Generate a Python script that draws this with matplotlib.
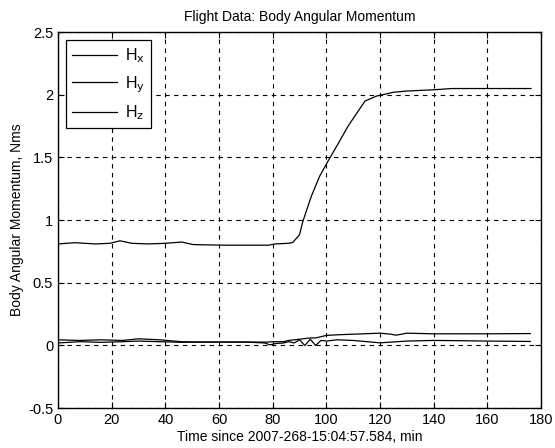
import numpy as np
import matplotlib.pyplot as plt

plt.rcParams['font.family'] = ['Liberation Sans', 'DejaVu Sans']

# body angular momentum
t_hx = [0, 6.3, 13.8, 19.4, 23.1, 27.5, 33.7, 39.9, 46.1, 50.4, 61, 78.4, 80.9, 85.8,
        87.5, 90, 91.25, 94.4, 97.5, 100.6, 104.4, 108.1, 111.25, 114.4, 118.75,
        125, 130, 140, 146.9, 176.25]
hx = [0.81, 0.82, 0.81, 0.815, 0.835, 0.815, 0.81, 0.815, 0.825, 0.805, 0.80, 0.80, 0.81, 0.815,
      0.822, 0.883, 0.99, 1.19, 1.35, 1.47, 1.61, 1.75, 1.85, 1.95, 1.99,
      2.02, 2.03, 2.04, 2.05, 2.05]

t_hy = [0, 8, 16, 24, 30, 38, 46, 54, 62, 70, 78, 80, 84, 86, 88, 90, 92, 94, 96, 98,
        100, 104, 110, 120, 124, 126, 130, 140, 150, 160, 176]
hy = [0.045, 0.04, 0.045, 0.04, 0.053, 0.045, 0.03, 0.027, 0.027, 0.027, 0.027, 0.03, 0.03,
      0.04, 0.045, 0.05, 0.055, 0.06, 0.06, 0.07, 0.08, 0.085, 0.09, 0.098, 0.09, 0.082,
      0.098, 0.093, 0.093, 0.093, 0.095]

t_hz = [0, 8, 16, 24, 30, 38, 46, 54, 62, 70, 77, 79, 81, 84, 86, 88, 90, 92, 94, 96, 98,
        100, 104, 110, 120, 130, 140, 150, 160, 176]
hz = [0.02, 0.03, 0.025, 0.03, 0.035, 0.03, 0.025, 0.027, 0.027, 0.027, 0.02, 0.005, 0.015,
      0.02, 0.03, 0.02, 0.045, 0.0, 0.05, 0.0, 0.04, 0.035, 0.045, 0.04, 0.021, 0.035,
      0.04, 0.038, 0.035, 0.032]

fig = plt.figure(figsize=(5.55, 4.48), dpi=100)
ax = fig.add_axes([0.1045, 0.089, 0.8703, 0.8393])

ax.plot(t_hx, hx, color='black', lw=0.9, label=r'H$_\mathrm{x}$')
ax.plot(t_hy, hy, color='black', lw=0.9, label=r'H$_\mathrm{y}$')
ax.plot(t_hz, hz, color='black', lw=0.9, label=r'H$_\mathrm{z}$')

ax.set_xlim(0, 180)
ax.set_ylim(-0.5, 2.5)
ax.set_xticks(np.arange(0, 181, 20))
ax.set_yticks([-0.5, 0, 0.5, 1, 1.5, 2, 2.5])
ax.set_yticklabels(['-0.5', '0', '0.5', '1', '1.5', '2', '2.5'])
ax.tick_params(direction='in', labelsize=10.5, length=4, top=True, right=True)
ax.grid(True, color='black', linestyle=(0, (4, 4)), lw=0.8)
for s in ax.spines.values():
    s.set_linewidth(1.0)

ax.set_title('Flight Data: Body Angular Momentum', fontsize=10, pad=8)
ax.set_xlabel('Time since 2007-268-15:04:57.584, min', fontsize=10, labelpad=2)
ax.set_ylabel('Body Angular Momentum, Nms', fontsize=10, labelpad=3)

leg = ax.legend(loc='upper left', fontsize=11.5, fancybox=False, framealpha=1,
                edgecolor='black', handlelength=2.8, borderaxespad=0.5,
                labelspacing=0.55, handletextpad=0.5)
leg.get_frame().set_linewidth(0.9)

fig.savefig('out.png', dpi=100)
